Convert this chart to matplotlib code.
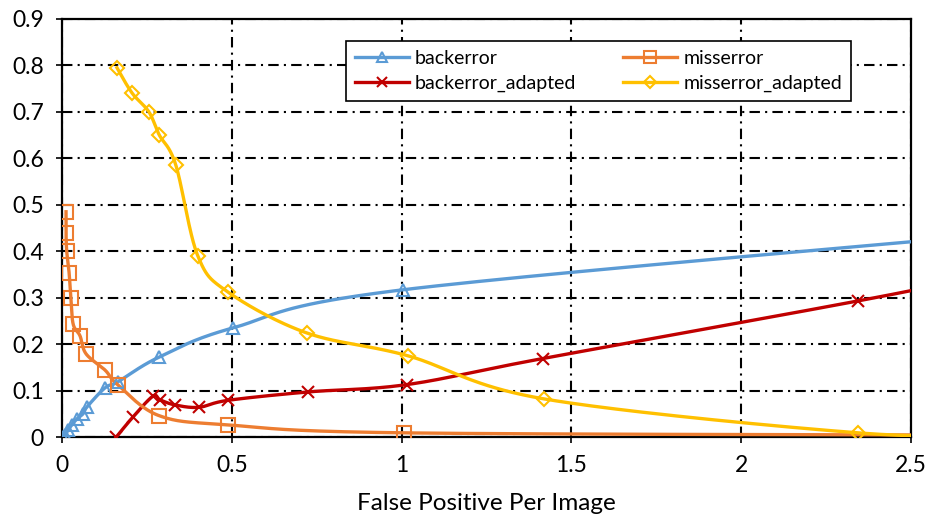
import numpy as np
import matplotlib.pyplot as plt
from matplotlib.lines import Line2D

# values (last point of each series lies past x=2.5 and is clipped)
back_x = [0.002, 0.009, 0.018, 0.029, 0.044, 0.062, 0.074, 0.127, 0.165, 0.286, 0.504, 1.004, 2.8]
back_y = [0.0, 0.004, 0.015, 0.026, 0.039, 0.050, 0.065, 0.106, 0.119, 0.172, 0.235, 0.317, 0.44]

miss_x = [0.012, 0.012, 0.014, 0.021, 0.026, 0.033, 0.053, 0.071, 0.127, 0.165, 0.286, 0.490, 1.007, 2.8]
miss_y = [0.485, 0.440, 0.400, 0.354, 0.300, 0.243, 0.218, 0.179, 0.144, 0.112, 0.046, 0.026, 0.009, 0.004]

back_ad_x = [0.160, 0.209, 0.268, 0.289, 0.333, 0.403, 0.489, 0.724, 1.017, 1.416, 2.344, 2.8]
back_ad_y = [0.0, 0.043, 0.088, 0.080, 0.069, 0.064, 0.079, 0.097, 0.113, 0.169, 0.293, 0.36]

miss_ad_x = [0.162, 0.206, 0.256, 0.286, 0.335, 0.400, 0.489, 0.721, 1.018, 1.420, 2.344, 2.8]
miss_ad_y = [0.795, 0.741, 0.700, 0.651, 0.586, 0.390, 0.312, 0.224, 0.175, 0.082, 0.009, 0.004]


def smooth(x, y, n=40):
    # Excel-like smoothed line: bezier segments with catmull-rom control points
    pts = np.column_stack([x, y])
    P = np.vstack([pts[0], pts, pts[-1]])
    t = np.linspace(0, 1, n)[:, None]
    segs = []
    for i in range(1, len(P) - 2):
        p0, p1, p2, p3 = P[i - 1], P[i], P[i + 1], P[i + 2]
        c1 = p1 + (p2 - p0) / 6
        c2 = p2 - (p3 - p1) / 6
        segs.append((1 - t) ** 3 * p1 + 3 * (1 - t) ** 2 * t * c1
                    + 3 * (1 - t) * t ** 2 * c2 + t ** 3 * p2)
    s = np.vstack(segs)
    return s[:, 0], s[:, 1]


plt.rcParams['font.family'] = ['Lato', 'DejaVu Sans']

fig = plt.figure(figsize=(9.29, 5.23), dpi=100)
ax = fig.add_axes([0.0667, 0.1644, 0.9139, 0.7993])

series = [
    ("backerror", back_x, back_y, "#5B9BD5", "^", 9),
    ("backerror_adapted", back_ad_x, back_ad_y, "#C00000", "x", 9),
    ("misserror", miss_x, miss_y, "#ED7D31", "s", 10),
    ("misserror_adapted", miss_ad_x, miss_ad_y, "#FFC000", "D", 7.5),
]

handles = []
for name, x, y, col, mk, ms in series:
    sx, sy = smooth(x, y)
    ax.plot(sx, sy, color=col, lw=2.4, zorder=3)
    ax.plot(x, y, ls="none", marker=mk, ms=ms, mfc="none", mec=col, mew=1.5, zorder=4)
    handles.append(Line2D([], [], color=col, lw=2.4, marker=mk, ms=ms * 0.8,
                          mfc="none", mec=col, mew=1.5, label=name))

ax.set_xlim(0, 2.5)
ax.set_ylim(0, 0.9)
ax.set_xticks([0, 0.5, 1, 1.5, 2, 2.5])
ax.set_xticklabels(["0", "0.5", "1", "1.5", "2", "2.5"])
ax.set_yticks(np.arange(0, 0.91, 0.1))
ax.set_yticklabels(["0", "0.1", "0.2", "0.3", "0.4", "0.5", "0.6", "0.7", "0.8", "0.9"])
ax.tick_params(labelsize=16.5, length=4, width=1.2, direction="out", pad=9)
ax.grid(True, color="black", lw=1.5, ls=(0, (5, 2.5, 1, 2.5)), zorder=1)
ax.set_axisbelow(True)
for sp in ax.spines.values():
    sp.set_linewidth(1.6)
    sp.set_color("black")

ax.set_xlabel("False Positive Per Image", fontsize=17.5, labelpad=12)

leg = ax.legend(handles=handles, ncol=2, fontsize=14, loc="upper left",
                bbox_to_anchor=(0.3345, 0.947), borderaxespad=0, frameon=True,
                fancybox=False, edgecolor="black", handlelength=2.8,
                columnspacing=2.4, borderpad=0.45, labelspacing=0.4,
                handletextpad=0.3)
leg.get_frame().set_linewidth(1.2)
leg.get_frame().set_alpha(1)

fig.savefig("out.png", dpi=100)
